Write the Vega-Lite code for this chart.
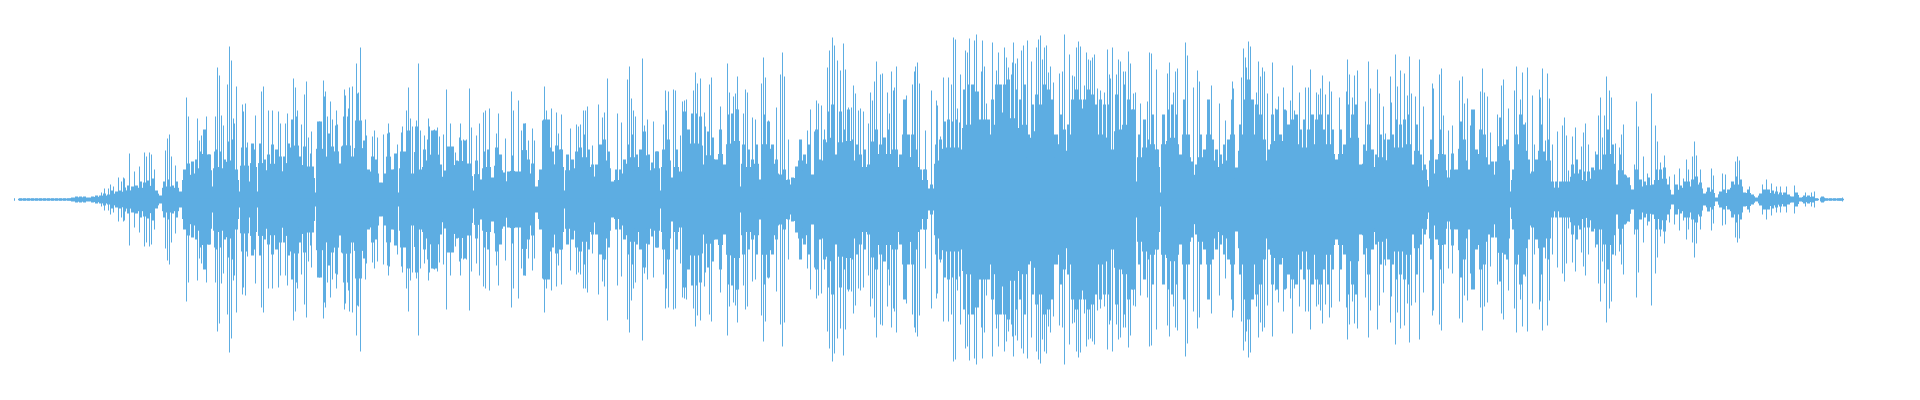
{"$schema":"https://vega.github.io/schema/vega-lite/v6.json","width":1920,"height":400,"padding":0,"autosize":{"type":"fit","contains":"padding"},"background":"white","view":{"stroke":null},
"datasets":{
"core":[{"x":205,"a":13},{"x":245,"a":8},{"x":285,"a":7},{"x":325,"a":7},{"x":365,"a":9},{"x":405,"a":7},{"x":445,"a":8},{"x":485,"a":9},{"x":525,"a":11},{"x":565,"a":9},{"x":605,"a":12},{"x":645,"a":9},{"x":685,"a":12},{"x":725,"a":13},{"x":765,"a":12},{"x":805,"a":15},{"x":845,"a":14},{"x":885,"a":13},{"x":925,"a":11},{"x":965,"a":16},{"x":1005,"a":20},{"x":1045,"a":20},{"x":1085,"a":20},{"x":1125,"a":18},{"x":1165,"a":7},{"x":1205,"a":15},{"x":1245,"a":10},{"x":1285,"a":16},{"x":1325,"a":16},{"x":1365,"a":16},{"x":1405,"a":13},{"x":1445,"a":13},{"x":1485,"a":14},{"x":1525,"a":8},{"x":1565,"a":8},{"x":1605,"a":10},{"x":1645,"a":8}],
"body":[{"x":20,"a":1},{"x":24,"a":1},{"x":28,"a":1},{"x":32,"a":1},{"x":36,"a":1},{"x":40,"a":1},{"x":44,"a":1},{"x":48,"a":1},{"x":52,"a":1},{"x":56,"a":1},{"x":60,"a":1},{"x":64,"a":1},{"x":68,"a":1},{"x":72,"a":2},{"x":76,"a":3},{"x":80,"a":3},{"x":84,"a":3},{"x":88,"a":2},{"x":92,"a":3},{"x":96,"a":4},{"x":100,"a":4},{"x":104,"a":6},{"x":108,"a":5},{"x":112,"a":9},{"x":116,"a":8},{"x":120,"a":9},{"x":124,"a":12},{"x":128,"a":14},{"x":132,"a":13},{"x":136,"a":14},{"x":140,"a":18},{"x":144,"a":17},{"x":148,"a":19},{"x":152,"a":21},{"x":156,"a":9},{"x":160,"a":4},{"x":164,"a":18},{"x":168,"a":20},{"x":172,"a":14},{"x":176,"a":18},{"x":180,"a":8},{"x":184,"a":30},{"x":188,"a":36},{"x":192,"a":38},{"x":196,"a":40},{"x":200,"a":48},{"x":204,"a":70},{"x":208,"a":45},{"x":209,"a":45},{"x":215,"a":48},{"x":216,"a":50},{"x":220,"a":48},{"x":224,"a":40},{"x":228,"a":58},{"x":232,"a":60},{"x":236,"a":30},{"x":242,"a":52},{"x":246,"a":52},{"x":248,"a":18},{"x":252,"a":56},{"x":254,"a":50},{"x":260,"a":56},{"x":264,"a":40},{"x":268,"a":45},{"x":272,"a":55},{"x":276,"a":50},{"x":280,"a":43},{"x":284,"a":43},{"x":288,"a":56},{"x":292,"a":80},{"x":296,"a":83},{"x":300,"a":43},{"x":304,"a":53},{"x":308,"a":33},{"x":312,"a":33},{"x":318,"a":78},{"x":320,"a":78},{"x":324,"a":61},{"x":328,"a":66},{"x":332,"a":53},{"x":336,"a":74},{"x":340,"a":36},{"x":344,"a":83},{"x":348,"a":83},{"x":352,"a":43},{"x":356,"a":79},{"x":360,"a":79},{"x":364,"a":59},{"x":368,"a":30},{"x":372,"a":43},{"x":376,"a":40},{"x":380,"a":17},{"x":384,"a":26},{"x":388,"a":66},{"x":392,"a":30},{"x":395,"a":46},{"x":401,"a":48},{"x":404,"a":48},{"x":408,"a":69},{"x":412,"a":26},{"x":416,"a":73},{"x":420,"a":30},{"x":424,"a":50},{"x":428,"a":60},{"x":432,"a":69},{"x":436,"a":69},{"x":440,"a":35},{"x":444,"a":29},{"x":448,"a":53},{"x":452,"a":53},{"x":456,"a":39},{"x":460,"a":59},{"x":464,"a":59},{"x":468,"a":36},{"x":470,"a":36},{"x":476,"a":39},{"x":480,"a":20},{"x":484,"a":48},{"x":488,"a":50},{"x":492,"a":22},{"x":496,"a":52},{"x":500,"a":45},{"x":504,"a":27},{"x":508,"a":28},{"x":512,"a":44},{"x":516,"a":28},{"x":520,"a":28},{"x":524,"a":76},{"x":528,"a":40},{"x":532,"a":36},{"x":536,"a":13},{"x":540,"a":30},{"x":544,"a":80},{"x":548,"a":80},{"x":552,"a":48},{"x":556,"a":54},{"x":560,"a":50},{"x":561,"a":50},{"x":567,"a":45},{"x":572,"a":40},{"x":576,"a":48},{"x":580,"a":52},{"x":584,"a":65},{"x":588,"a":50},{"x":592,"a":35},{"x":596,"a":35},{"x":600,"a":55},{"x":604,"a":60},{"x":608,"a":48},{"x":612,"a":18},{"x":616,"a":30},{"x":620,"a":30},{"x":624,"a":40},{"x":628,"a":55},{"x":632,"a":65},{"x":636,"a":45},{"x":640,"a":50},{"x":644,"a":68},{"x":648,"a":45},{"x":652,"a":37},{"x":656,"a":48},{"x":657,"a":48},{"x":663,"a":50},{"x":668,"a":60},{"x":672,"a":22},{"x":676,"a":50},{"x":680,"a":28},{"x":684,"a":88},{"x":688,"a":70},{"x":692,"a":86},{"x":696,"a":86},{"x":700,"a":83},{"x":704,"a":35},{"x":708,"a":68},{"x":712,"a":62},{"x":716,"a":40},{"x":720,"a":70},{"x":724,"a":35},{"x":728,"a":85},{"x":732,"a":86},{"x":736,"a":90},{"x":737,"a":90},{"x":743,"a":55},{"x":748,"a":50},{"x":752,"a":40},{"x":756,"a":55},{"x":760,"a":20},{"x":764,"a":85},{"x":768,"a":78},{"x":772,"a":55},{"x":776,"a":40},{"x":780,"a":25},{"x":784,"a":30},{"x":788,"a":20},{"x":792,"a":22},{"x":796,"a":33},{"x":800,"a":60},{"x":804,"a":45},{"x":808,"a":55},{"x":812,"a":25},{"x":816,"a":70},{"x":820,"a":40},{"x":824,"a":60},{"x":828,"a":88},{"x":832,"a":95},{"x":836,"a":45},{"x":840,"a":88},{"x":844,"a":70},{"x":848,"a":90},{"x":852,"a":60},{"x":856,"a":55},{"x":860,"a":45},{"x":864,"a":50},{"x":868,"a":35},{"x":872,"a":58},{"x":876,"a":70},{"x":880,"a":55},{"x":884,"a":62},{"x":888,"a":70},{"x":892,"a":50},{"x":896,"a":50},{"x":900,"a":45},{"x":904,"a":100},{"x":908,"a":65},{"x":912,"a":65},{"x":916,"a":50},{"x":920,"a":30},{"x":924,"a":30},{"x":925,"a":30},{"x":931,"a":15},{"x":936,"a":55},{"x":940,"a":60},{"x":944,"a":78},{"x":948,"a":80},{"x":952,"a":78},{"x":956,"a":80},{"x":960,"a":50},{"x":964,"a":110},{"x":968,"a":115},{"x":972,"a":115},{"x":976,"a":108},{"x":980,"a":80},{"x":984,"a":80},{"x":988,"a":80},{"x":992,"a":100},{"x":996,"a":115},{"x":1000,"a":115},{"x":1004,"a":115},{"x":1008,"a":120},{"x":1012,"a":125},{"x":1016,"a":110},{"x":1020,"a":100},{"x":1024,"a":115},{"x":1028,"a":65},{"x":1032,"a":95},{"x":1036,"a":105},{"x":1040,"a":95},{"x":1044,"a":115},{"x":1048,"a":110},{"x":1052,"a":100},{"x":1056,"a":65},{"x":1060,"a":85},{"x":1064,"a":70},{"x":1068,"a":75},{"x":1072,"a":100},{"x":1076,"a":110},{"x":1080,"a":100},{"x":1084,"a":100},{"x":1088,"a":110},{"x":1092,"a":105},{"x":1096,"a":95},{"x":1100,"a":100},{"x":1104,"a":95},{"x":1108,"a":95},{"x":1112,"a":50},{"x":1116,"a":105},{"x":1120,"a":70},{"x":1124,"a":115},{"x":1128,"a":100},{"x":1132,"a":90},{"x":1133,"a":90},{"x":1139,"a":65},{"x":1144,"a":80},{"x":1148,"a":60},{"x":1152,"a":85},{"x":1156,"a":50},{"x":1157,"a":50},{"x":1163,"a":85},{"x":1168,"a":90},{"x":1172,"a":95},{"x":1176,"a":85},{"x":1180,"a":45},{"x":1184,"a":100},{"x":1188,"a":65},{"x":1192,"a":38},{"x":1196,"a":35},{"x":1200,"a":65},{"x":1204,"a":50},{"x":1208,"a":100},{"x":1212,"a":60},{"x":1216,"a":50},{"x":1220,"a":45},{"x":1224,"a":55},{"x":1228,"a":60},{"x":1232,"a":100},{"x":1236,"a":32},{"x":1240,"a":75},{"x":1244,"a":100},{"x":1248,"a":120},{"x":1252,"a":100},{"x":1256,"a":95},{"x":1260,"a":85},{"x":1264,"a":60},{"x":1268,"a":50},{"x":1272,"a":85},{"x":1276,"a":90},{"x":1280,"a":65},{"x":1284,"a":90},{"x":1288,"a":75},{"x":1292,"a":80},{"x":1296,"a":85},{"x":1300,"a":70},{"x":1304,"a":80},{"x":1308,"a":70},{"x":1312,"a":85},{"x":1316,"a":80},{"x":1320,"a":85},{"x":1324,"a":70},{"x":1328,"a":85},{"x":1332,"a":70},{"x":1336,"a":40},{"x":1340,"a":70},{"x":1344,"a":55},{"x":1348,"a":95},{"x":1352,"a":85},{"x":1356,"a":95},{"x":1360,"a":35},{"x":1364,"a":55},{"x":1368,"a":75},{"x":1372,"a":50},{"x":1376,"a":45},{"x":1380,"a":65},{"x":1384,"a":60},{"x":1388,"a":60},{"x":1392,"a":65},{"x":1396,"a":80},{"x":1400,"a":75},{"x":1404,"a":80},{"x":1408,"a":85},{"x":1412,"a":35},{"x":1416,"a":75},{"x":1420,"a":45},{"x":1424,"a":35},{"x":1425,"a":30},{"x":1431,"a":60},{"x":1436,"a":40},{"x":1440,"a":70},{"x":1444,"a":45},{"x":1448,"a":22},{"x":1452,"a":46},{"x":1456,"a":30},{"x":1460,"a":78},{"x":1464,"a":60},{"x":1468,"a":30},{"x":1472,"a":90},{"x":1476,"a":50},{"x":1480,"a":70},{"x":1484,"a":65},{"x":1488,"a":35},{"x":1492,"a":38},{"x":1496,"a":38},{"x":1500,"a":82},{"x":1504,"a":55},{"x":1507,"a":60},{"x":1513,"a":30},{"x":1516,"a":65},{"x":1520,"a":85},{"x":1524,"a":75},{"x":1528,"a":40},{"x":1532,"a":28},{"x":1536,"a":40},{"x":1540,"a":75},{"x":1544,"a":48},{"x":1548,"a":60},{"x":1552,"a":18},{"x":1556,"a":18},{"x":1560,"a":18},{"x":1564,"a":18},{"x":1568,"a":18},{"x":1572,"a":35},{"x":1576,"a":40},{"x":1580,"a":30},{"x":1584,"a":28},{"x":1588,"a":28},{"x":1592,"a":32},{"x":1596,"a":45},{"x":1600,"a":30},{"x":1604,"a":45},{"x":1608,"a":70},{"x":1612,"a":55},{"x":1616,"a":15},{"x":1620,"a":45},{"x":1624,"a":25},{"x":1628,"a":22},{"x":1632,"a":10},{"x":1636,"a":30},{"x":1640,"a":20},{"x":1644,"a":18},{"x":1648,"a":22},{"x":1652,"a":15},{"x":1656,"a":30},{"x":1660,"a":30},{"x":1664,"a":32},{"x":1668,"a":15},{"x":1672,"a":5},{"x":1676,"a":15},{"x":1680,"a":14},{"x":1684,"a":18},{"x":1688,"a":18},{"x":1692,"a":20},{"x":1696,"a":23},{"x":1700,"a":17},{"x":1704,"a":6},{"x":1708,"a":12},{"x":1712,"a":10},{"x":1716,"a":2},{"x":1720,"a":8},{"x":1724,"a":10},{"x":1728,"a":10},{"x":1732,"a":18},{"x":1736,"a":23},{"x":1740,"a":20},{"x":1744,"a":7},{"x":1748,"a":10},{"x":1752,"a":5},{"x":1756,"a":2},{"x":1760,"a":6},{"x":1764,"a":10},{"x":1768,"a":10},{"x":1772,"a":9},{"x":1776,"a":8},{"x":1780,"a":7},{"x":1784,"a":7},{"x":1788,"a":5},{"x":1792,"a":3},{"x":1796,"a":7},{"x":1800,"a":2},{"x":1804,"a":4},{"x":1808,"a":4},{"x":1812,"a":3},{"x":1816,"a":1},{"x":1822,"a":3},{"x":1826,"a":1},{"x":1830,"a":1},{"x":1834,"a":1},{"x":1838,"a":1},{"x":1841,"a":1}],
"spike":[{"x":14,"a":1},{"x":101,"a":7},{"x":104,"a":11},{"x":108,"a":11},{"x":110,"a":15},{"x":113,"a":13},{"x":118,"a":22},{"x":121,"a":18},{"x":123,"a":22},{"x":124,"a":21},{"x":129,"a":46},{"x":134,"a":28},{"x":139,"a":33},{"x":144,"a":47},{"x":146,"a":43},{"x":149,"a":47},{"x":151,"a":45},{"x":154,"a":30},{"x":165,"a":49},{"x":167,"a":61},{"x":169,"a":65},{"x":171,"a":43},{"x":175,"a":34},{"x":186,"a":102},{"x":188,"a":83},{"x":197,"a":81},{"x":199,"a":59},{"x":201,"a":64},{"x":206,"a":83},{"x":215,"a":83},{"x":217,"a":132},{"x":219,"a":124},{"x":221,"a":84},{"x":223,"a":74},{"x":227,"a":115},{"x":229,"a":153},{"x":231,"a":139},{"x":233,"a":81},{"x":234,"a":76},{"x":236,"a":113},{"x":242,"a":95},{"x":243,"a":88},{"x":245,"a":96},{"x":247,"a":57},{"x":255,"a":84},{"x":261,"a":108},{"x":263,"a":113},{"x":268,"a":89},{"x":272,"a":89},{"x":278,"a":88},{"x":280,"a":76},{"x":285,"a":76},{"x":287,"a":86},{"x":293,"a":121},{"x":295,"a":112},{"x":297,"a":89},{"x":301,"a":75},{"x":304,"a":105},{"x":306,"a":118},{"x":308,"a":62},{"x":310,"a":46},{"x":311,"a":68},{"x":323,"a":119},{"x":324,"a":103},{"x":325,"a":108},{"x":327,"a":83},{"x":330,"a":98},{"x":332,"a":80},{"x":336,"a":89},{"x":337,"a":75},{"x":341,"a":53},{"x":344,"a":110},{"x":345,"a":104},{"x":348,"a":91},{"x":349,"a":112},{"x":352,"a":113},{"x":356,"a":136},{"x":357,"a":106},{"x":358,"a":107},{"x":360,"a":152},{"x":365,"a":80},{"x":366,"a":64},{"x":372,"a":63},{"x":374,"a":69},{"x":377,"a":62},{"x":383,"a":65},{"x":388,"a":76},{"x":389,"a":67},{"x":397,"a":55},{"x":401,"a":67},{"x":402,"a":73},{"x":406,"a":89},{"x":408,"a":112},{"x":410,"a":81},{"x":412,"a":73},{"x":416,"a":79},{"x":418,"a":136},{"x":420,"a":69},{"x":424,"a":64},{"x":428,"a":81},{"x":429,"a":73},{"x":433,"a":69},{"x":434,"a":70},{"x":437,"a":72},{"x":439,"a":63},{"x":443,"a":65},{"x":446,"a":110},{"x":450,"a":76},{"x":452,"a":51},{"x":455,"a":47},{"x":459,"a":62},{"x":460,"a":76},{"x":463,"a":60},{"x":466,"a":60},{"x":469,"a":111},{"x":471,"a":72},{"x":476,"a":64},{"x":479,"a":76},{"x":483,"a":87},{"x":485,"a":89},{"x":489,"a":91},{"x":496,"a":66},{"x":498,"a":86},{"x":505,"a":61},{"x":511,"a":108},{"x":513,"a":89},{"x":518,"a":99},{"x":521,"a":69},{"x":525,"a":76},{"x":528,"a":59},{"x":532,"a":71},{"x":534,"a":59},{"x":542,"a":79},{"x":544,"a":113},{"x":546,"a":89},{"x":551,"a":91},{"x":556,"a":87},{"x":558,"a":66},{"x":561,"a":85},{"x":570,"a":71},{"x":576,"a":75},{"x":578,"a":73},{"x":580,"a":75},{"x":583,"a":89},{"x":585,"a":89},{"x":587,"a":93},{"x":592,"a":54},{"x":598,"a":95},{"x":602,"a":82},{"x":604,"a":87},{"x":607,"a":121},{"x":617,"a":86},{"x":621,"a":77},{"x":627,"a":120},{"x":629,"a":133},{"x":631,"a":101},{"x":633,"a":89},{"x":635,"a":83},{"x":642,"a":141},{"x":644,"a":74},{"x":647,"a":80},{"x":653,"a":78},{"x":663,"a":75},{"x":665,"a":109},{"x":666,"a":89},{"x":668,"a":108},{"x":673,"a":110},{"x":675,"a":109},{"x":680,"a":64},{"x":682,"a":98},{"x":684,"a":99},{"x":686,"a":100},{"x":693,"a":109},{"x":695,"a":127},{"x":697,"a":116},{"x":700,"a":121},{"x":704,"a":87},{"x":705,"a":73},{"x":709,"a":115},{"x":711,"a":122},{"x":720,"a":93},{"x":727,"a":136},{"x":729,"a":107},{"x":733,"a":103},{"x":735,"a":106},{"x":737,"a":123},{"x":743,"a":86},{"x":745,"a":110},{"x":747,"a":107},{"x":752,"a":82},{"x":755,"a":80},{"x":761,"a":116},{"x":763,"a":142},{"x":765,"a":122},{"x":768,"a":79},{"x":776,"a":92},{"x":780,"a":125},{"x":782,"a":147},{"x":784,"a":123},{"x":788,"a":60},{"x":800,"a":59},{"x":807,"a":69},{"x":810,"a":90},{"x":814,"a":68},{"x":816,"a":99},{"x":818,"a":96},{"x":821,"a":94},{"x":824,"a":70},{"x":827,"a":132},{"x":829,"a":149},{"x":832,"a":162},{"x":834,"a":154},{"x":837,"a":139},{"x":840,"a":129},{"x":843,"a":156},{"x":845,"a":130},{"x":848,"a":92},{"x":851,"a":92},{"x":853,"a":114},{"x":855,"a":106},{"x":858,"a":89},{"x":860,"a":91},{"x":863,"a":88},{"x":868,"a":76},{"x":870,"a":107},{"x":872,"a":99},{"x":874,"a":118},{"x":876,"a":138},{"x":880,"a":125},{"x":882,"a":126},{"x":887,"a":107},{"x":889,"a":86},{"x":891,"a":128},{"x":893,"a":109},{"x":894,"a":112},{"x":896,"a":133},{"x":904,"a":97},{"x":906,"a":104},{"x":912,"a":115},{"x":914,"a":128},{"x":915,"a":133},{"x":917,"a":137},{"x":919,"a":116},{"x":925,"a":69},{"x":931,"a":109},{"x":936,"a":99},{"x":937,"a":94},{"x":940,"a":63},{"x":943,"a":122},{"x":948,"a":122},{"x":951,"a":115},{"x":953,"a":162},{"x":955,"a":160},{"x":957,"a":91},{"x":959,"a":77},{"x":960,"a":125},{"x":963,"a":94},{"x":965,"a":149},{"x":967,"a":147},{"x":969,"a":161},{"x":974,"a":159},{"x":976,"a":165},{"x":978,"a":108},{"x":981,"a":128},{"x":982,"a":159},{"x":984,"a":133},{"x":986,"a":96},{"x":992,"a":157},{"x":996,"a":129},{"x":998,"a":147},{"x":1000,"a":114},{"x":1002,"a":87},{"x":1004,"a":152},{"x":1006,"a":142},{"x":1008,"a":132},{"x":1012,"a":137},{"x":1013,"a":157},{"x":1015,"a":136},{"x":1017,"a":141},{"x":1021,"a":149},{"x":1023,"a":154},{"x":1027,"a":159},{"x":1031,"a":138},{"x":1036,"a":152},{"x":1038,"a":160},{"x":1040,"a":164},{"x":1042,"a":140},{"x":1044,"a":152},{"x":1046,"a":154},{"x":1048,"a":127},{"x":1050,"a":133},{"x":1053,"a":117},{"x":1059,"a":126},{"x":1062,"a":128},{"x":1064,"a":165},{"x":1069,"a":145},{"x":1072,"a":124},{"x":1074,"a":123},{"x":1076,"a":152},{"x":1078,"a":158},{"x":1080,"a":153},{"x":1082,"a":91},{"x":1084,"a":114},{"x":1086,"a":147},{"x":1088,"a":140},{"x":1090,"a":139},{"x":1092,"a":142},{"x":1094,"a":145},{"x":1097,"a":111},{"x":1100,"a":109},{"x":1104,"a":107},{"x":1107,"a":150},{"x":1109,"a":125},{"x":1110,"a":121},{"x":1112,"a":152},{"x":1116,"a":125},{"x":1118,"a":140},{"x":1120,"a":138},{"x":1123,"a":128},{"x":1125,"a":128},{"x":1128,"a":148},{"x":1130,"a":136},{"x":1133,"a":106},{"x":1135,"a":107},{"x":1140,"a":96},{"x":1147,"a":98},{"x":1149,"a":147},{"x":1151,"a":146},{"x":1156,"a":130},{"x":1167,"a":126},{"x":1169,"a":137},{"x":1173,"a":107},{"x":1175,"a":128},{"x":1177,"a":131},{"x":1185,"a":157},{"x":1187,"a":144},{"x":1193,"a":112},{"x":1197,"a":129},{"x":1199,"a":118},{"x":1211,"a":114},{"x":1219,"a":96},{"x":1225,"a":79},{"x":1232,"a":118},{"x":1233,"a":111},{"x":1241,"a":122},{"x":1243,"a":151},{"x":1245,"a":142},{"x":1246,"a":132},{"x":1248,"a":158},{"x":1250,"a":153},{"x":1256,"a":107},{"x":1258,"a":138},{"x":1260,"a":123},{"x":1262,"a":132},{"x":1264,"a":128},{"x":1267,"a":106},{"x":1272,"a":137},{"x":1275,"a":91},{"x":1278,"a":103},{"x":1283,"a":112},{"x":1286,"a":89},{"x":1290,"a":99},{"x":1292,"a":134},{"x":1294,"a":89},{"x":1299,"a":107},{"x":1305,"a":112},{"x":1308,"a":112},{"x":1310,"a":130},{"x":1316,"a":107},{"x":1318,"a":105},{"x":1320,"a":111},{"x":1322,"a":124},{"x":1325,"a":105},{"x":1329,"a":118},{"x":1331,"a":108},{"x":1339,"a":102},{"x":1346,"a":108},{"x":1347,"a":140},{"x":1349,"a":125},{"x":1352,"a":102},{"x":1354,"a":124},{"x":1357,"a":129},{"x":1365,"a":98},{"x":1368,"a":138},{"x":1370,"a":111},{"x":1377,"a":130},{"x":1379,"a":106},{"x":1383,"a":93},{"x":1385,"a":66},{"x":1390,"a":123},{"x":1391,"a":97},{"x":1395,"a":145},{"x":1397,"a":113},{"x":1400,"a":129},{"x":1404,"a":126},{"x":1407,"a":104},{"x":1409,"a":143},{"x":1411,"a":106},{"x":1415,"a":103},{"x":1419,"a":140},{"x":1423,"a":93},{"x":1432,"a":116},{"x":1433,"a":111},{"x":1439,"a":125},{"x":1441,"a":131},{"x":1443,"a":84},{"x":1448,"a":69},{"x":1452,"a":74},{"x":1459,"a":119},{"x":1462,"a":123},{"x":1464,"a":96},{"x":1467,"a":101},{"x":1470,"a":74},{"x":1472,"a":89},{"x":1474,"a":90},{"x":1480,"a":108},{"x":1482,"a":131},{"x":1484,"a":107},{"x":1487,"a":103},{"x":1490,"a":67},{"x":1497,"a":85},{"x":1501,"a":114},{"x":1503,"a":120},{"x":1508,"a":91},{"x":1514,"a":109},{"x":1516,"a":133},{"x":1520,"a":100},{"x":1522,"a":127},{"x":1525,"a":77},{"x":1527,"a":132},{"x":1532,"a":104},{"x":1534,"a":55},{"x":1539,"a":110},{"x":1540,"a":102},{"x":1542,"a":131},{"x":1545,"a":59},{"x":1547,"a":126},{"x":1549,"a":101},{"x":1552,"a":55},{"x":1557,"a":68},{"x":1562,"a":74},{"x":1564,"a":82},{"x":1566,"a":64},{"x":1568,"a":29},{"x":1572,"a":63},{"x":1575,"a":72},{"x":1577,"a":39},{"x":1581,"a":53},{"x":1583,"a":67},{"x":1585,"a":76},{"x":1588,"a":55},{"x":1595,"a":48},{"x":1598,"a":84},{"x":1600,"a":102},{"x":1602,"a":62},{"x":1604,"a":84},{"x":1606,"a":123},{"x":1609,"a":109},{"x":1611,"a":102},{"x":1615,"a":56},{"x":1619,"a":52},{"x":1621,"a":65},{"x":1623,"a":75},{"x":1626,"a":24},{"x":1629,"a":22},{"x":1634,"a":35},{"x":1636,"a":98},{"x":1638,"a":73},{"x":1643,"a":43},{"x":1647,"a":26},{"x":1651,"a":106},{"x":1655,"a":74},{"x":1657,"a":58},{"x":1660,"a":37},{"x":1664,"a":44},{"x":1669,"a":23},{"x":1674,"a":25},{"x":1679,"a":31},{"x":1683,"a":21},{"x":1686,"a":40},{"x":1688,"a":30},{"x":1692,"a":43},{"x":1694,"a":58},{"x":1696,"a":44},{"x":1700,"a":30},{"x":1711,"a":31},{"x":1713,"a":24},{"x":1722,"a":26},{"x":1725,"a":25},{"x":1735,"a":38},{"x":1737,"a":43},{"x":1739,"a":39},{"x":1749,"a":13},{"x":1762,"a":15},{"x":1766,"a":20},{"x":1771,"a":16},{"x":1776,"a":13},{"x":1780,"a":13},{"x":1786,"a":13},{"x":1794,"a":14},{"x":1805,"a":7},{"x":1811,"a":7},{"x":1814,"a":8},{"x":1842,"a":2}]
},
"resolve":{"scale":{"y":"independent"}},
"layer":[
{"data":{"name":"core"},"mark":{"type":"rule","strokeWidth":41,"color":"#5dade2"},"encoding":{"x":{"field":"x","type":"quantitative","scale":{"domain":[-0.5,1919.5]},"axis":null},"y":{"field":"a","type":"quantitative","scale":{"domain":[-200.5,199.5],"nice":false,"zero":false},"axis":null},"y2":{"datum":-1}}},
{"data":{"name":"core"},"mark":{"type":"rule","strokeWidth":41,"color":"#5dade2"},"encoding":{"x":{"field":"x","type":"quantitative","scale":{"domain":[-0.5,1919.5]},"axis":null},"y":{"field":"a","type":"quantitative","scale":{"domain":[-199.5,200.5],"reverse":true,"nice":false,"zero":false},"axis":null},"y2":{"datum":-1}}},
{"data":{"name":"body"},"mark":{"type":"rule","strokeWidth":5,"color":"#5dade2"},"encoding":{"x":{"field":"x","type":"quantitative","scale":{"domain":[-0.5,1919.5]},"axis":null},"y":{"field":"a","type":"quantitative","scale":{"domain":[-308.46,306.92],"nice":false,"zero":false},"axis":null},"y2":{"datum":-1}}},
{"data":{"name":"body"},"mark":{"type":"rule","strokeWidth":5,"color":"#5dade2"},"encoding":{"x":{"field":"x","type":"quantitative","scale":{"domain":[-0.5,1919.5]},"axis":null},"y":{"field":"a","type":"quantitative","scale":{"domain":[-306.92,308.46],"reverse":true,"nice":false,"zero":false},"axis":null},"y2":{"datum":-1}}},
{"data":{"name":"body"},"mark":{"type":"rule","strokeWidth":3,"color":"#5dade2"},"encoding":{"x":{"field":"x","type":"quantitative","scale":{"domain":[-0.5,1919.5]},"axis":null},"y":{"field":"a","type":"quantitative","scale":{"domain":[-200.5,199.5],"nice":false,"zero":false},"axis":null},"y2":{"datum":-1}}},
{"data":{"name":"body"},"mark":{"type":"rule","strokeWidth":3,"color":"#5dade2"},"encoding":{"x":{"field":"x","type":"quantitative","scale":{"domain":[-0.5,1919.5]},"axis":null},"y":{"field":"a","type":"quantitative","scale":{"domain":[-199.5,200.5],"reverse":true,"nice":false,"zero":false},"axis":null},"y2":{"datum":-1}}},
{"data":{"name":"spike"},"mark":{"type":"rule","strokeWidth":1,"color":"#5dade2"},"encoding":{"x":{"field":"x","type":"quantitative","scale":{"domain":[-0.5,1919.5]},"axis":null},"y":{"field":"a","type":"quantitative","scale":{"domain":[-200.5,199.5],"nice":false,"zero":false},"axis":null},"y2":{"datum":-1}}},
{"data":{"name":"spike"},"mark":{"type":"rule","strokeWidth":1,"color":"#5dade2"},"encoding":{"x":{"field":"x","type":"quantitative","scale":{"domain":[-0.5,1919.5]},"axis":null},"y":{"field":"a","type":"quantitative","scale":{"domain":[-199.5,200.5],"reverse":true,"nice":false,"zero":false},"axis":null},"y2":{"datum":-1}}}
]}
